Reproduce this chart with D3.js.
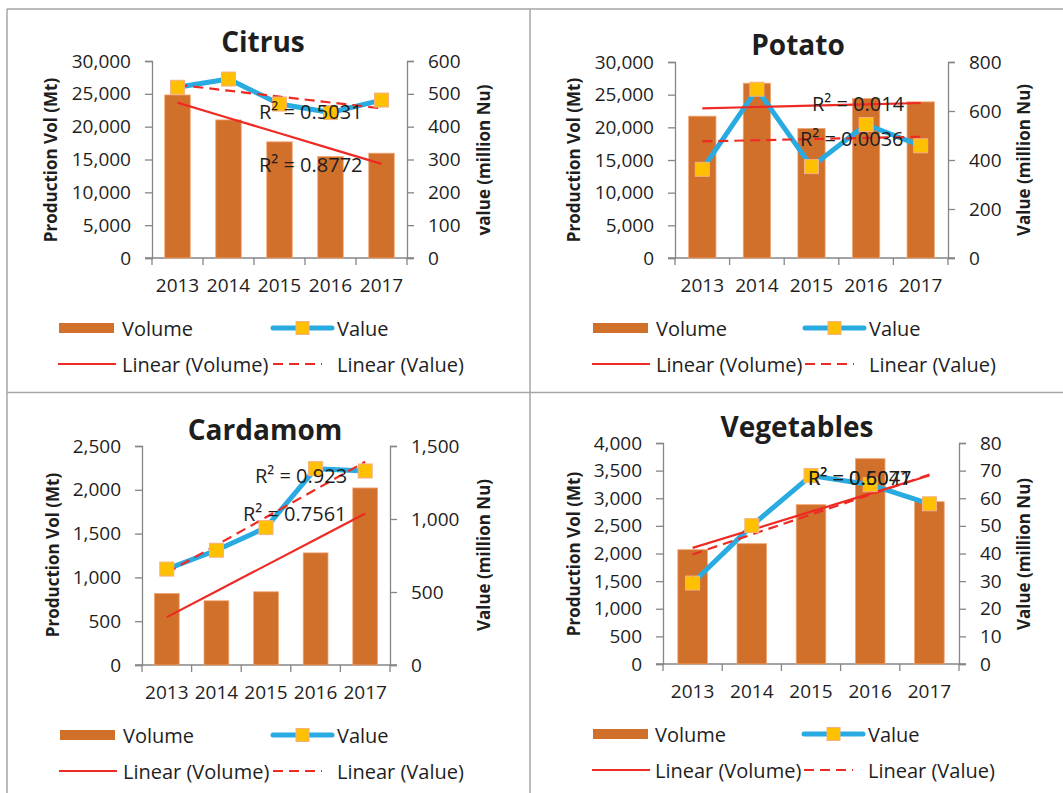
<!DOCTYPE html>
<html>
<head>
<meta charset="utf-8">
<script src="https://cdn.jsdelivr.net/npm/d3@7"></script>
<style>
  body { margin: 0; background: #fff; }
  text { font-family: "Open Sans", sans-serif; }
</style>
</head>
<body>
<svg id="chart" width="1063" height="793"></svg>
<script>
// categories
var years = ["2013", "2014", "2015", "2016", "2017"];

// series values
var citrusVolume = [24830, 21030, 17690, 15450, 15960];
var citrusValue = [520, 545, 469, 443, 481];
var potatoVolume = [21710, 26750, 19830, 24400, 23900];
var potatoValue = [362, 689, 373, 545, 458];
var cardamomVolume = [817, 733, 836, 1280, 2021];
var cardamomValue = [657, 786, 941, 1345, 1329];
var vegVolume = [2069, 2178, 2884, 3716, 2938];
var vegValue = [29.3, 50.1, 68.2, 64.9, 58.0];

// tick labels
var citrusVolTicks = [0, 5000, 10000, 15000, 20000, 25000, 30000];
var citrusValTicks = [0, 100, 200, 300, 400, 500, 600];
var potatoVolTicks = [0, 5000, 10000, 15000, 20000, 25000, 30000];
var potatoValTicks = [0, 200, 400, 600, 800];
var cardamomVolTicks = [0, 500, 1000, 1500, 2000, 2500];
var cardamomValTicks = [0, 500, 1000, 1500];
var vegVolTicks = [0, 500, 1000, 1500, 2000, 2500, 3000, 3500, 4000];
var vegValTicks = [0, 10, 20, 30, 40, 50, 60, 70, 80];

// trendline labels [volume, value]
var citrusR2 = ["R² = 0.8772", "R² = 0.5031"];
var potatoR2 = ["R² = 0.014", "R² = 0.0036"];
var cardamomR2 = ["R² = 0.7561", "R² = 0.923"];
var vegR2 = ["R² = 0.6047", "R² = 0.5071"];

var BAR = "#D1702B", LINE = "#29ABE2", MARK = "#FFC000", TREND = "#EE2A24";
var AXIS = "#868686", INK = "#1e1e1e";

var panels = [
  { title: "Citrus", volume: citrusVolume, value: citrusValue,
    volTicks: citrusVolTicks, valTicks: citrusValTicks, r2: citrusR2,
    rightTitle: "value (million Nu)",
    x0: 152, x1: 407, y0: 61, y1: 258, titleX: 263, titleY: 52,
    lTitleX: 50, rTitleX: 483, aTitleY: 160,
    legY: [328, 364], legX: [59, 122, 273, 337],
    r2Pos: [[259, 164], [259, 111]] },
  { title: "Potato", volume: potatoVolume, value: potatoValue,
    volTicks: potatoVolTicks, valTicks: potatoValTicks, r2: potatoR2,
    rightTitle: "Value (million Nu)",
    x0: 675, x1: 948, y0: 62, y1: 258, titleX: 798, titleY: 55,
    lTitleX: 573, rTitleX: 1023, aTitleY: 160,
    legY: [328, 364], legX: [593, 656, 805, 869],
    r2Pos: [[812, 103], [800, 138]] },
  { title: "Cardamom", volume: cardamomVolume, value: cardamomValue,
    volTicks: cardamomVolTicks, valTicks: cardamomValTicks, r2: cardamomR2,
    rightTitle: "Value (million Nu)",
    x0: 142, x1: 390, y0: 446, y1: 665, titleX: 265, titleY: 440,
    lTitleX: 52, rTitleX: 483, aTitleY: 555,
    legY: [735, 771], legX: [60, 123, 273, 337],
    r2Pos: [[243, 513], [255, 475]] },
  { title: "Vegetables", volume: vegVolume, value: vegValue,
    volTicks: vegVolTicks, valTicks: vegValTicks, r2: vegR2,
    rightTitle: "Value (million Nu)",
    x0: 663, x1: 959, y0: 443, y1: 664, titleX: 797, titleY: 437,
    lTitleX: 573, rTitleX: 1023, aTitleY: 554,
    legY: [734, 770], legX: [593, 655, 804, 868],
    r2Pos: [[808, 477], [808, 477]] }
];

var svg = d3.select("#chart");
var fmt = d3.format(",");

// panel frames
var frame = svg.append("g").attr("stroke", "#a6a6a6").attr("stroke-width", 1.5);
frame.append("line").attr("x1", 7).attr("y1", 9).attr("x2", 7).attr("y2", 793);
frame.append("line").attr("x1", 7).attr("y1", 9).attr("x2", 1063).attr("y2", 9);
frame.append("line").attr("x1", 530).attr("y1", 9).attr("x2", 530).attr("y2", 793);
frame.append("line").attr("x1", 7).attr("y1", 392.5).attr("x2", 1063).attr("y2", 392.5);

function trend(vals) {
  var n = vals.length, mx = (n - 1) / 2, my = d3.mean(vals);
  var sxy = 0, sxx = 0;
  vals.forEach(function(v, i) { sxy += (i - mx) * (v - my); sxx += (i - mx) * (i - mx); });
  var b = sxy / sxx;
  return vals.map(function(v, i) { return my + b * (i - mx); });
}

panels.forEach(function(p) {
  var g = svg.append("g");

  var x = d3.scaleBand().domain(years).range([p.x0, p.x1])
            .paddingInner(0.5).paddingOuter(0.25);
  var cx = function(d, i) { return x(years[i]) + x.bandwidth() / 2; };
  var yL = d3.scaleLinear().domain([0, d3.max(p.volTicks)]).range([p.y1, p.y0]);
  var yR = d3.scaleLinear().domain([0, d3.max(p.valTicks)]).range([p.y1, p.y0]);

  // y axes
  var left = g.append("g").attr("transform", "translate(" + p.x0 + ",0)")
    .call(d3.axisLeft(yL).tickValues(p.volTicks).tickFormat(fmt).tickSize(7).tickPadding(14));
  var right = g.append("g").attr("transform", "translate(" + p.x1 + ",0)")
    .call(d3.axisRight(yR).tickValues(p.valTicks).tickFormat(fmt).tickSize(7).tickPadding(14));
  [left, right].forEach(function(a) {
    a.select(".domain").attr("stroke", AXIS).attr("stroke-width", 1.3);
    a.selectAll(".tick line").attr("stroke", AXIS).attr("stroke-width", 1.3);
    a.selectAll(".tick text").attr("fill", INK).attr("font-size", 19)
      .attr("font-family", "'Open Sans', sans-serif");
  });

  // x axis with ticks at band boundaries
  var step = x.step();
  var bounds = d3.range(years.length + 1).map(function(i) { return p.x0 + i * step; });
  g.append("line").attr("x1", p.x0 - 7).attr("x2", p.x1 + 7)
    .attr("y1", p.y1).attr("y2", p.y1).attr("stroke", AXIS).attr("stroke-width", 1.3);
  g.selectAll(".xt").data(bounds).enter().append("line")
    .attr("x1", function(d) { return d; }).attr("x2", function(d) { return d; })
    .attr("y1", p.y1).attr("y2", p.y1 + 7).attr("stroke", AXIS).attr("stroke-width", 1.3);
  g.selectAll(".xl").data(years).enter().append("text")
    .attr("x", function(d) { return x(d) + x.bandwidth() / 2; })
    .attr("y", p.y1 + 27).attr("text-anchor", "middle").attr("dominant-baseline", "central")
    .attr("font-size", 19).attr("fill", INK).text(function(d) { return d; });

  // bars
  g.selectAll(".bar").data(p.volume).enter().append("rect")
    .attr("x", function(d, i) { return x(years[i]); })
    .attr("width", x.bandwidth())
    .attr("y", function(d) { return yL(d); })
    .attr("height", function(d) { return p.y1 - yL(d); })
    .attr("fill", BAR).attr("stroke", "#F2A676").attr("stroke-width", 0.8);

  // value line
  g.append("path").datum(p.value)
    .attr("d", d3.line().x(cx).y(function(d) { return yR(d); }))
    .attr("fill", "none").attr("stroke", LINE).attr("stroke-width", 5)
    .attr("stroke-linejoin", "round");

  // trend lines
  var tv = trend(p.volume), tw = trend(p.value);
  g.append("path").datum(tv)
    .attr("d", d3.line().x(cx).y(function(d) { return yL(d); }))
    .attr("fill", "none").attr("stroke", TREND).attr("stroke-width", 2.2);
  g.append("path").datum(tw)
    .attr("d", d3.line().x(cx).y(function(d) { return yR(d); }))
    .attr("fill", "none").attr("stroke", TREND).attr("stroke-width", 2.2)
    .attr("stroke-dasharray", "10,6");

  // markers
  g.selectAll(".mk").data(p.value).enter().append("rect")
    .attr("x", function(d, i) { return cx(d, i) - 7; })
    .attr("y", function(d) { return yR(d) - 7; })
    .attr("width", 14).attr("height", 14)
    .attr("fill", MARK).attr("stroke", "#F4B183").attr("stroke-width", 1);

  // R² labels
  p.r2.forEach(function(t, i) {
    g.append("text").attr("x", p.r2Pos[i][0]).attr("y", p.r2Pos[i][1])
      .attr("dominant-baseline", "central").attr("font-size", 20).attr("fill", INK)
      .text(t);
  });

  // titles
  g.append("text").attr("x", p.titleX).attr("y", p.titleY).attr("text-anchor", "middle")
    .attr("font-size", 28).attr("font-weight", "bold").attr("fill", INK).text(p.title);
  g.append("text").attr("transform", "translate(" + p.lTitleX + "," + p.aTitleY + ") rotate(-90)")
    .attr("text-anchor", "middle").attr("dominant-baseline", "central")
    .attr("font-size", 17).attr("font-weight", "bold").attr("fill", INK)
    .text("Production Vol (Mt)");
  g.append("text").attr("transform", "translate(" + p.rTitleX + "," + p.aTitleY + ") rotate(-90)")
    .attr("text-anchor", "middle").attr("dominant-baseline", "central")
    .attr("font-size", 17).attr("font-weight", "bold").attr("fill", INK)
    .text(p.rightTitle);

  // legend
  var lx = p.legX, ly = p.legY;
  g.append("rect").attr("x", lx[0]).attr("y", ly[0] - 5).attr("width", 55).attr("height", 10)
    .attr("fill", BAR);
  g.append("line").attr("x1", lx[2]).attr("x2", lx[2] + 59).attr("y1", ly[0]).attr("y2", ly[0])
    .attr("stroke", LINE).attr("stroke-width", 5).attr("stroke-linecap", "round");
  g.append("rect").attr("x", lx[2] + 23).attr("y", ly[0] - 6.5).attr("width", 13).attr("height", 13)
    .attr("fill", MARK).attr("stroke", "#F4B183").attr("stroke-width", 1);
  g.append("line").attr("x1", lx[0] - 1).attr("x2", lx[0] + 57).attr("y1", ly[1]).attr("y2", ly[1])
    .attr("stroke", TREND).attr("stroke-width", 2.2);
  g.append("line").attr("x1", lx[2]).attr("x2", lx[2] + 49).attr("y1", ly[1]).attr("y2", ly[1])
    .attr("stroke", TREND).attr("stroke-width", 2.2).attr("stroke-dasharray", "10,6");
  [["Volume", lx[1], ly[0]], ["Value", lx[3], ly[0]],
   ["Linear (Volume)", lx[1], ly[1]], ["Linear (Value)", lx[3], ly[1]]].forEach(function(t) {
    g.append("text").attr("x", t[1]).attr("y", t[2]).attr("dominant-baseline", "central")
      .attr("font-size", 20).attr("fill", INK).text(t[0]);
  });
});
</script>
</body>
</html>
